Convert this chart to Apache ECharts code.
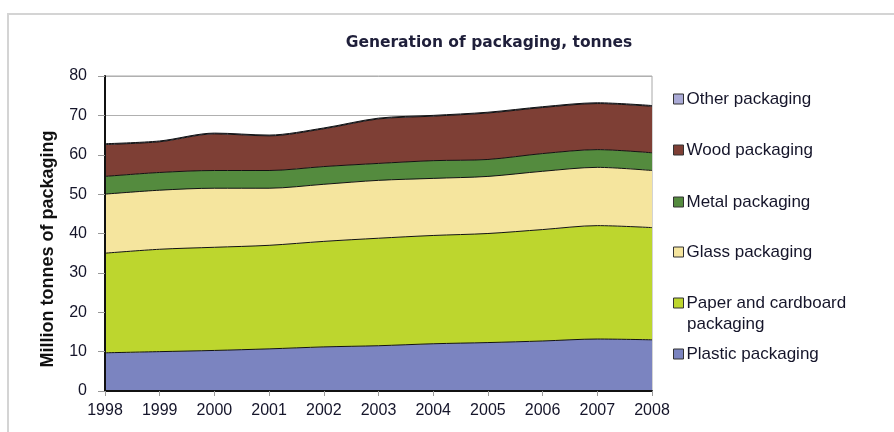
<!DOCTYPE html>
<html>
<head>
<meta charset="utf-8">
<script src="https://cdn.jsdelivr.net/npm/echarts@6/dist/echarts.min.js"></script>
<style>html,body{margin:0;padding:0;background:#fff}#c{width:894px;height:432px}</style>
</head>
<body>
<div id="c"></div>
<script>
var years = ['1998','1999','2000','2001','2002','2003','2004','2005','2006','2007','2008'];
var plastic = [9.7,10.0,10.3,10.7,11.2,11.5,12.0,12.3,12.7,13.2,13.0];
var paper = [25.3,26.0,26.2,26.3,26.8,27.3,27.5,27.7,28.3,28.8,28.5];
var glass = [15.0,15.0,15.0,14.5,14.5,14.7,14.5,14.5,14.8,14.8,14.5];
var metal = [4.5,4.5,4.5,4.5,4.5,4.3,4.5,4.3,4.5,4.5,4.5];
var wood = [8.1,7.8,9.3,8.8,9.6,11.3,11.3,11.8,11.7,11.7,11.8];
var other = [0.2,0.2,0.2,0.2,0.2,0.2,0.2,0.2,0.2,0.2,0.2];

var names = ['Plastic packaging','Paper and cardboard packaging','Glass packaging','Metal packaging','Wood packaging','Other packaging'];
var colors = ['#7b84c0','#bdd62e','#f5e59e','#548b3e','#7e3f35','#aaaad6'];
var datas = [plastic, paper, glass, metal, wood, other];
var legendY = [354, 303, 252, 202, 150, 99];

var series = names.map(function(n, i){
  return {
    name: n, type: 'line', stack: 'total', smooth: 0.3,
    symbol: 'none', data: datas[i], yAxisIndex: 0,
    lineStyle: {color: '#111', width: 1},
    itemStyle: {color: colors[i]},
    areaStyle: {color: colors[i], opacity: 1},
    z: 2
  };
});

var legends = names.map(function(n, i){
  return {
    data: [n], orient: 'vertical', left: 673, top: legendY[i] - 9,
    padding: 0, icon: 'rect', itemWidth: 10, itemHeight: 10, itemGap: 4,
    selectedMode: false,
    lineStyle: {width: 0, color: 'transparent'},
    itemStyle: {borderColor: '#333', borderWidth: 1},
    formatter: function(name){ return name === 'Paper and cardboard packaging' ? 'Paper and cardboard' : name; },
    textStyle: {fontFamily: 'Liberation Sans, Arial', fontSize: 17, color: '#15152a', lineHeight: 18, padding: [0,0,0,-2]}
  };
});

var labelFont = {fontFamily: 'Liberation Sans, Arial', fontSize: 16, color: '#15152a'};

var chart = echarts.init(document.getElementById('c'), null, {renderer: 'canvas'});
chart.setOption({
  animation: false,
  backgroundColor: '#fff',
  title: {
    text: 'Generation of packaging, tonnes', left: 484, top: 30, textAlign: 'center',
    textStyle: {fontFamily: 'DejaVu Sans', fontWeight: 'bold', fontSize: 15.5, color: '#1f1f3a'}
  },
  grid: {left: 105, right: 242, top: 76, bottom: 41, show: true, borderColor: '#a8a8a8', borderWidth: 1, backgroundColor: 'transparent'},
  legend: legends,
  xAxis: {
    type: 'category', data: years, boundaryGap: false,
    axisLine: {show: true, lineStyle: {color: '#111', width: 2}},
    axisTick: {show: true, alignWithLabel: true, length: 5, lineStyle: {color: '#999'}},
    axisLabel: Object.assign({margin: 12, showMaxLabel: true, showMinLabel: true}, labelFont),
    z: 5
  },
  yAxis: [{
    type: 'value', min: 0, max: 80, interval: 10,
    axisLine: {show: false}, axisTick: {show: false}, axisLabel: {show: false},
    splitLine: {show: true, lineStyle: {color: '#b0b0b0', width: 1}},
    z: 0
  }, {
    type: 'value', min: 0, max: 80, interval: 10, position: 'left',
    axisLine: {show: true, onZero: false, lineStyle: {color: '#111', width: 2}},
    axisTick: {show: true, length: 7, lineStyle: {color: '#999'}},
    axisLabel: Object.assign({margin: 18}, labelFont),
    splitLine: {show: false},
    z: 5
  }],
  graphic: [
    {type: 'rect', shape: {x: 8, y: 14, width: 1000, height: 1000}, style: {fill: 'none', stroke: '#d4d4d4', lineWidth: 2}, z: -1, silent: true},
    {type: 'text', x: 48, y: 249, rotation: Math.PI/2, style: {text: 'Million tonnes of packaging', fontFamily: 'Liberation Sans, Arial', fontWeight: 'bold', fontSize: 18, fill: '#111', align: 'center', verticalAlign: 'middle'}, silent: true},
    {type: 'text', x: 687, y: 324, style: {text: 'packaging', fontFamily: 'Liberation Sans, Arial', fontSize: 17, fill: '#15152a', align: 'left', verticalAlign: 'middle'}, silent: true}
  ],
  series: series
});
</script>
</body>
</html>
